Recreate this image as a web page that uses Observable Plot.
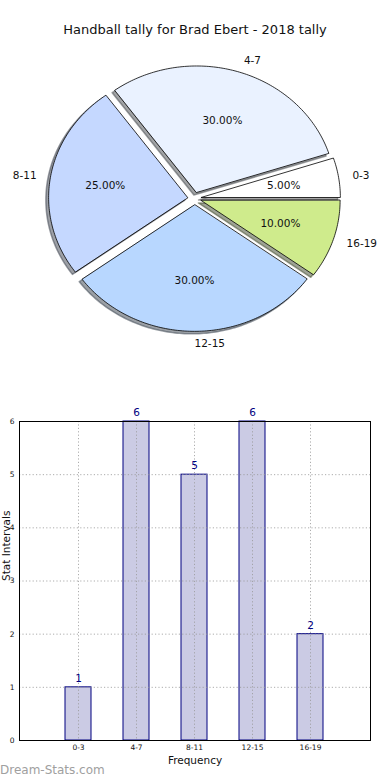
<!DOCTYPE html>
<html>
<head>
<meta charset="utf-8">
<script src="https://cdn.jsdelivr.net/npm/d3@7"></script>
<script src="https://cdn.jsdelivr.net/npm/@observablehq/plot@0.6"></script>
<style>
  html, body { margin: 0; padding: 0; background: #fff; }
  #wrap { position: relative; width: 390px; height: 780px; font-family: "DejaVu Sans", sans-serif; }
  #title { position: absolute; top: 23px; left: 0; width: 390px; text-align: center; font-size: 13px; line-height: 13px; color: #111; }
  #pie { position: absolute; top: 45px; left: 0; }
  #bar { position: absolute; top: 400px; left: 0; }
  #mark { position: absolute; top: 763px; left: 0; font-size: 12px; line-height: 14px; color: #a0a0a0; }
  svg { overflow: visible; }
</style>
</head>
<body>
<div id="wrap">
  <div id="title">Handball tally for Brad Ebert - 2018 tally</div>
  <div id="pie"></div>
  <div id="bar"></div>
  <div id="mark">Dream-Stats.com</div>
</div>
<script>
// ---- data ----
const categories = ["0-3", "4-7", "8-11", "12-15", "16-19"];
const counts = [1, 6, 5, 6, 2];
const sliceColors = ["#ffffff", "#eaf2ff", "#c5d8ff", "#b8d7ff", "#cfeb8c"];
const yTicks = [0, 1, 2, 3, 4, 5, 6];

// ---- pie geometry (layout) ----
const W = 390, PH = 335;
const rx = 139, ry = 126.5, cxPx = 194, cyPx = 153;
const explode = 0.05, shadowOff = 0.02;
const total = d3.sum(counts);

const wedges = [];
let acc = 0;
counts.forEach((v, i) => {
  const t1 = acc / total * 2 * Math.PI;
  acc += v;
  const t2 = acc / total * 2 * Math.PI;
  const m = (t1 + t2) / 2;
  wedges.push({cat: categories[i], v, t1, t2, m, color: sliceColors[i],
    ox: explode * Math.cos(m), oy: explode * Math.sin(m)});
});

function wedgePoints(w, dx, dy, key, fill) {
  const pts = [{k: key, x: w.ox + dx, y: w.oy + dy, fill}];
  const n = Math.max(8, Math.ceil((w.t2 - w.t1) / (Math.PI / 180)));
  for (let j = 0; j <= n; j++) {
    const t = w.t1 + (w.t2 - w.t1) * j / n;
    pts.push({k: key, x: w.ox + dx + Math.cos(t), y: w.oy + dy + Math.sin(t), fill});
  }
  return pts;
}

const shadowPts = [], wedgePts = [];
wedges.forEach((w, i) => {
  const c = d3.rgb(w.color);
  const sc = `rgb(${0.3 * c.r},${0.3 * c.g},${0.3 * c.b})`;
  shadowPts.push(...wedgePoints(w, -shadowOff, -shadowOff, "s" + i, sc));
  wedgePts.push(...wedgePoints(w, 0, 0, "w" + i, w.color));
});

const labels = wedges.map(w => ({
  text: w.cat,
  x: w.ox + 1.1 * Math.cos(w.m),
  y: w.oy + 1.1 * Math.sin(w.m),
  left: Math.cos(w.m) > -1e-6
}));
const pcts = wedges.map(w => ({
  text: (100 * w.v / total).toFixed(2) + "%",
  x: w.ox + 0.6 * Math.cos(w.m),
  y: w.oy + 0.6 * Math.sin(w.m)
}));

const pie = Plot.plot({
  width: W, height: PH,
  margin: 0,
  x: {type: "linear", domain: [-cxPx / rx, (W - cxPx) / rx], range: [0, W], axis: null},
  y: {type: "linear", domain: [-(PH - cyPx) / ry, cyPx / ry], range: [PH, 0], axis: null},
  color: {type: "identity"},
  style: {fontFamily: "DejaVu Sans, sans-serif", background: "transparent"},
  marks: [
    Plot.line(shadowPts, {x: "x", y: "y", z: "k", fill: "fill", stroke: "fill", fillOpacity: 0.5, strokeOpacity: 0.5, curve: "linear-closed"}),
    Plot.line(wedgePts, {x: "x", y: "y", z: "k", fill: "fill", stroke: "black", strokeWidth: 0.8, curve: "linear-closed"}),
    Plot.text(labels.filter(d => d.left), {x: "x", y: "y", text: "text", textAnchor: "start", fontSize: 10.5, fill: "#111"}),
    Plot.text(labels.filter(d => !d.left), {x: "x", y: "y", text: "text", textAnchor: "end", fontSize: 10.5, fill: "#111"}),
    Plot.text(pcts, {x: "x", y: "y", text: "text", fontSize: 10.5, fill: "#111"})
  ]
});
document.getElementById("pie").append(pie);

// ---- bar chart ----
const bars = categories.map((c, i) => ({cat: c, count: counts[i]}));
const BH = 370;
const bar = Plot.plot({
  width: W, height: BH,
  marginTop: 21, marginBottom: 30, marginLeft: 19, marginRight: 20,
  x: {type: "band", domain: categories, paddingInner: 0.55, paddingOuter: 0.77},
  y: {domain: [0, 6]},
  style: {fontFamily: "DejaVu Sans, sans-serif", background: "transparent", color: "#111"},
  marks: [
    Plot.barY(bars, {x: "cat", y: "count", fill: "#cbcbe4", stroke: "#000080", strokeWidth: 1}),
    Plot.gridY(yTicks, {stroke: "#999", strokeOpacity: 0.8, strokeDasharray: "1.2,2.2"}),
    Plot.gridX(categories, {stroke: "#999", strokeOpacity: 0.8, strokeDasharray: "1.2,2.2"}),
    Plot.axisY(yTicks, {tickSize: 0, tickPadding: 5, fontSize: 7.5, label: null, tickFormat: d3.format("d")}),
    Plot.axisX({tickSize: 0, tickPadding: 4, fontSize: 7.5, label: null}),
    Plot.frame({stroke: "black", strokeWidth: 1}),
    Plot.text(bars, {x: "cat", y: "count", text: d => String(d.count), dy: -9, fill: "#000080", fontSize: 10.5}),
    Plot.text(["Frequency"], {frameAnchor: "bottom", dy: 23, fontSize: 10.5, fill: "#111"}),
    Plot.text(["Stat Intervals"], {frameAnchor: "left", dx: -13, rotate: -90, fontSize: 10.5, fill: "#111"})
  ]
});
document.getElementById("bar").append(bar);
</script>
</body>
</html>
